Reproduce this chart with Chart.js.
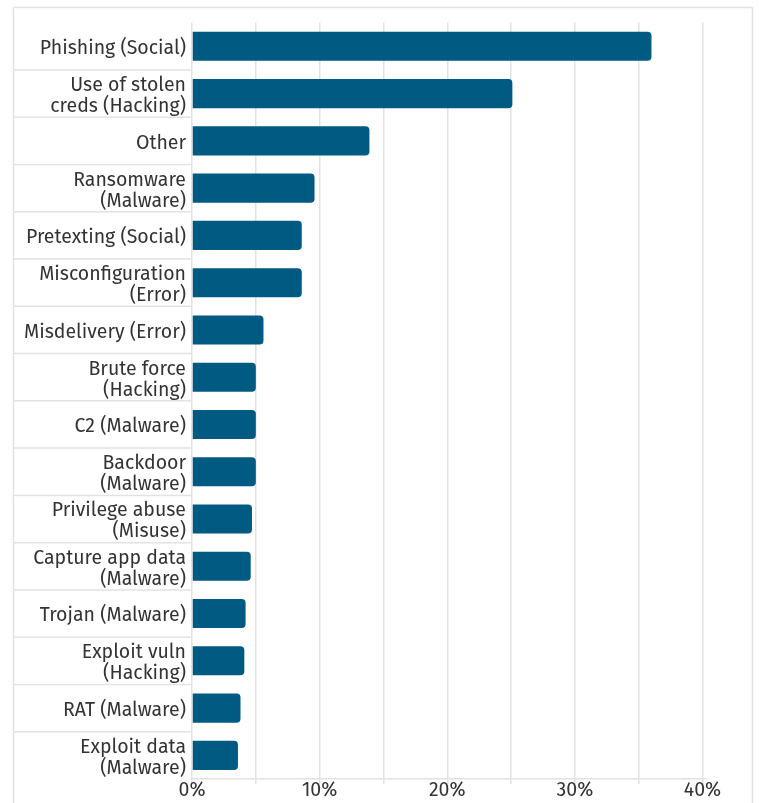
<!DOCTYPE html>
<html>
<head>
<meta charset="utf-8">
<script src="https://cdn.jsdelivr.net/npm/chart.js@4.4.0/dist/chart.umd.min.js"></script>
<style>
html,body{margin:0;padding:0;background:#fff;overflow:hidden;}
#wrap{position:relative;width:759px;height:803px;}
</style>
</head>
<body>
<div id="wrap"><canvas id="c" width="759" height="803"></canvas></div>
<script>
const categories = [
  "Phishing (Social)",
  ["Use of stolen", "creds (Hacking)"],
  "Other",
  ["Ransomware", "(Malware)"],
  "Pretexting (Social)",
  ["Misconfiguration", "(Error)"],
  "Misdelivery (Error)",
  ["Brute force", "(Hacking)"],
  "C2 (Malware)",
  ["Backdoor", "(Malware)"],
  ["Privilege abuse", "(Misuse)"],
  ["Capture app data", "(Malware)"],
  "Trojan (Malware)",
  ["Exploit vuln", "(Hacking)"],
  "RAT (Malware)",
  ["Exploit data", "(Malware)"]
];
const shares = [36, 25.1, 13.9, 9.6, 8.6, 8.6, 5.6, 5.0, 5.0, 5.0, 4.7, 4.6, 4.2, 4.1, 3.8, 3.6];
const tickValues = [0, 5, 10, 15, 20, 25, 30, 35, 40];
const tickLabels = { 0: "0%", 10: "10%", 20: "20%", 30: "30%", 40: "40%" };

const FONT = "'Fira Sans', 'Open Sans', sans-serif";
const GRID = '#e2e2e2';

const frame = {
  id: 'frame',
  afterLayout(chart) {
    const ys = chart.scales.y;
    if (!ys._shifted) {
      const orig = ys.drawLabels;
      ys.drawLabels = function (area) {
        const ctx = this.ctx;
        ctx.save();
        ctx.translate(0, 2.5);
        orig.call(this, area);
        ctx.restore();
      };
      ys._shifted = true;
    }
  },
  beforeDatasetsDraw(chart) {
    const ctx = chart.ctx, y = chart.scales.y, area = chart.chartArea;
    ctx.save();
    ctx.strokeStyle = GRID;
    ctx.lineWidth = 1.5;
    ctx.beginPath();
    ctx.moveTo(13.5, 810); ctx.lineTo(13.5, 7.5); ctx.lineTo(752.5, 7.5); ctx.lineTo(752.5, 810);
    ctx.stroke();
    for (let i = 1; i < categories.length; i++) {
      const p = (y.getPixelForValue(i - 1) + y.getPixelForValue(i)) / 2;
      ctx.beginPath();
      ctx.moveTo(13.5, p); ctx.lineTo(area.left, p);
      ctx.stroke();
    }
    ctx.restore();
  }
};

new Chart(document.getElementById('c'), {
  type: 'bar',
  data: {
    labels: categories,
    datasets: [{
      data: shares,
      backgroundColor: '#005a82',
      borderRadius: 4,
      borderSkipped: 'start',
      barPercentage: 0.615,
      categoryPercentage: 1
    }]
  },
  options: {
    indexAxis: 'y',
    responsive: false,
    animation: false,
    layout: { padding: { left: 13, top: 22.7, right: 52, bottom: 0 } },
    plugins: { legend: { display: false }, tooltip: { enabled: false } },
    scales: {
      x: {
        min: 0,
        max: 40.35,
        afterBuildTicks: s => { s.ticks = tickValues.map(v => ({ value: v })); },
        afterFit: s => { s.height = 24; s.paddingLeft = 0; s.paddingRight = 0; },
        ticks: {
          autoSkip: false,
          maxRotation: 0,
          padding: -5,
          color: '#333',
          font: { family: FONT, size: 19.5 },
          callback: v => (tickLabels[v] || '')
        },
        grid: { color: GRID, lineWidth: 1.5, tickLength: 5, drawTicks: true },
        border: { display: true, color: GRID, width: 1.5 }
      },
      y: {
        afterFit: s => { s.width = 179; s.paddingTop = 0; s.paddingBottom = 0; },
        ticks: {
          padding: 6,
          color: '#333',
          autoSkip: false,
          font: { family: FONT, size: 19.5, lineHeight: 1.08 }
        },
        grid: { display: false, drawTicks: false },
        border: { display: false }
      }
    }
  },
  plugins: [frame]
});
</script>
</body>
</html>
